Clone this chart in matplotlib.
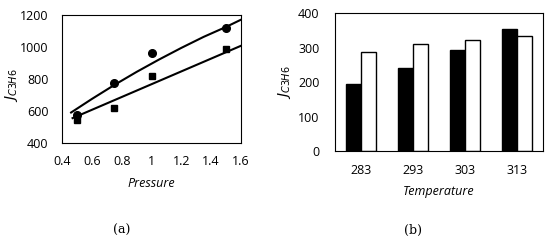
import numpy as np
import matplotlib
matplotlib.use("Agg")
import matplotlib.pyplot as plt

plt.rcParams['font.family'] = ['Open Sans', 'DejaVu Sans']

# panel (a) data
pressure = [0.5, 0.75, 1.0, 1.5]
j_circles = [575, 775, 965, 1120]
j_squares = [545, 620, 820, 990]
# fitted trend lines
fit_p = [0.46, 0.6, 0.75, 0.9, 1.05, 1.2, 1.35, 1.5, 1.6]
fit_upper = [590, 675, 762, 844, 921, 994, 1063, 1125, 1170]
fit_p2 = [0.47, 1.6]
fit_lower = [555, 1007]

# panel (b) data
temps = ['283', '293', '303', '313']
j_black = [193, 240, 293, 355]
j_white = [288, 310, 323, 332]

fig = plt.figure(figsize=(5.5, 2.41), dpi=100)

ax1 = fig.add_axes([0.113, 0.407, 0.325, 0.531])
ax1.plot(fit_p, fit_upper, color='black', lw=1.5)
ax1.plot(fit_p2, fit_lower, color='black', lw=1.5)
ax1.plot(pressure, j_circles, 'o', color='black', ms=5.5)
ax1.plot(pressure, j_squares, 's', color='black', ms=5)
ax1.set_xlim(0.4, 1.6)
ax1.set_ylim(400, 1200)
ax1.set_xticks([0.4, 0.6, 0.8, 1.0, 1.2, 1.4, 1.6])
ax1.set_xticklabels(['0.4', '0.6', '0.8', '1', '1.2', '1.4', '1.6'])
ax1.set_yticks([400, 600, 800, 1000, 1200])
ax1.tick_params(axis='x', length=0, labelsize=9, pad=9)
ax1.tick_params(axis='y', length=0, labelsize=9, pad=10)
ax1.set_xlabel('Pressure', fontsize=9, style='italic', labelpad=6)
ax1.set_ylabel(r'$\mathit{J}_{\mathit{C3H6}}$', fontsize=10)
ax1.yaxis.set_label_coords(-0.235, 0.45)

ax2 = fig.add_axes([0.609, 0.373, 0.378, 0.573])
x = np.arange(len(temps))
w = 0.29
ax2.bar(x - w / 2, j_black, w, color='black', edgecolor='black', lw=1)
ax2.bar(x + w / 2, j_white, w, color='white', edgecolor='black', lw=1)
ax2.set_xlim(-0.5, 3.5)
ax2.set_ylim(0, 400)
ax2.set_xticks(x)
ax2.set_xticklabels(temps)
ax2.set_yticks([0, 100, 200, 300, 400])
ax2.tick_params(axis='x', length=0, labelsize=9, pad=9)
ax2.tick_params(axis='y', length=0, labelsize=9, pad=11)
ax2.set_xlabel('Temperature', fontsize=9, style='italic', labelpad=6)
ax2.set_ylabel(r'$\mathit{J}_{\mathit{C3H6}}$', fontsize=10)
ax2.yaxis.set_label_coords(-0.2, 0.5)

for ax in (ax1, ax2):
    for s in ax.spines.values():
        s.set_linewidth(0.8)

fig.text(0.222, 0.03, '(a)', fontsize=9, family='DejaVu Serif', ha='center')
fig.text(0.751, 0.03, '(b)', fontsize=9, family='DejaVu Serif', ha='center')

plt.savefig('out.png', dpi=100)
plt.close()
